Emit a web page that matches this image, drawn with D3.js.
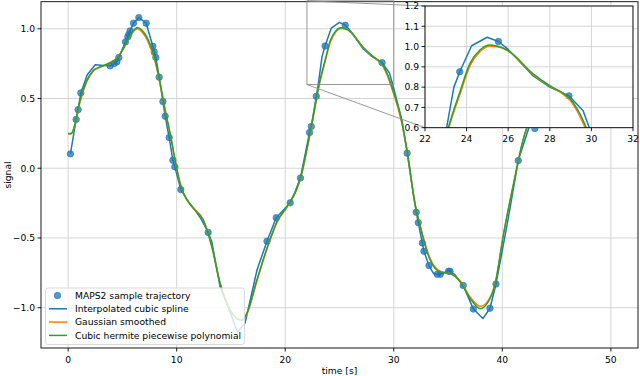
<!DOCTYPE html>
<html>
<head>
<meta charset="utf-8">
<script src="https://cdn.jsdelivr.net/npm/d3@7"></script>
<style>
  body { margin: 0; background: #fff; }
  text { font-family: "DejaVu Sans", sans-serif; font-size: 9.2px; fill: #000; }
</style>
</head>
<body>
<svg id="chart"></svg>
<script>
// MAPS2 sample points
const sampleTime = [0.21, 0.74, 0.92, 1.17, 3.87, 4.24, 4.49, 4.67, 5.28, 5.5, 5.59, 5.71, 6.02, 6.51, 7.19,
  7.8, 7.93, 8.08, 8.39, 8.73, 8.94, 9.31, 9.65, 9.83, 10.38, 12.9, 18.32, 19.17, 20.46, 21.4, 22.24, 22.4,
  22.86, 23.67, 25.53, 28.92, 31.23, 32.07, 32.26, 32.63, 32.78, 33.24, 34.01, 34.29, 35.05, 35.18, 36.4,
  37.33, 38.86, 39.42, 41.47, 43.0];
const sampleSignal = [0.103, 0.35, 0.42, 0.54, 0.734, 0.75, 0.763, 0.794, 0.906, 0.942, 0.96, 0.985, 1.04, 1.08, 1.04,
  0.875, 0.834, 0.794, 0.653, 0.478, 0.373, 0.22, 0.057, 0.01, -0.153, -0.46, -0.523, -0.355, -0.248, -0.07, 0.256, 0.30,
  0.516, 0.876, 1.025, 0.757, 0.108, -0.316, -0.39, -0.536, -0.595, -0.698, -0.76, -0.76, -0.739, -0.739, -0.84,
  -1.01, -1.004, -0.83, 0.055, 0.285];

// interpolated cubic spline (as drawn)
const splineTime = [0.21, 0.74, 0.92, 1.17, 1.76, 2.5, 3.3, 3.87, 4.24, 4.49, 4.67, 5.28, 5.5, 5.59, 5.71, 6.02, 6.51,
  7.19, 7.8, 7.93, 8.08, 8.39, 8.73, 8.94, 9.31, 9.65, 9.83, 10.38, 11.09, 11.7, 12.3, 12.9, 13.24, 14.0, 15.09, 15.6,
  16.3, 17.4, 18.32, 19.17, 20.46, 20.9, 21.4, 22.24, 22.4, 22.86, 23.04, 23.39, 23.67, 24.24, 24.99, 25.53, 26.0,
  27.2, 28.0, 28.92, 29.6, 29.9, 30.75, 31.23, 32.07, 32.26, 32.63, 32.78, 33.24, 33.67, 34.01, 34.29, 35.05, 35.18,
  35.67, 36.4, 37.33, 38.21, 38.86, 39.42, 40.5, 41.47, 42.4, 43.3];
const splineSignal = [0.103, 0.35, 0.42, 0.54, 0.67, 0.742, 0.737, 0.734, 0.75, 0.763, 0.794, 0.906, 0.942, 0.96, 0.985, 1.04, 1.08,
  1.04, 0.875, 0.834, 0.794, 0.653, 0.478, 0.373, 0.22, 0.057, 0.01, -0.153, -0.242, -0.30, -0.37, -0.46, -0.529, -0.85, -1.067, -1.175,
  -1.11, -0.73, -0.523, -0.355, -0.248, -0.17, -0.07, 0.256, 0.30, 0.516, 0.6, 0.8, 0.876, 1.004, 1.046, 1.025, 0.986,
  0.855, 0.80, 0.757, 0.684, 0.6, 0.344, 0.108, -0.316, -0.39, -0.536, -0.595, -0.698, -0.755, -0.76, -0.76, -0.739, -0.739,
  -0.767, -0.84, -1.01, -1.078, -1.004, -0.83, -0.38, 0.055, 0.28, 0.42];

// gaussian smoothed and cubic hermite curves share one time grid
const smoothTime = [0.0, 0.28, 0.64, 1.1, 1.72, 2.33, 2.95, 3.87, 4.49, 5.1, 5.71, 6.39, 6.79, 7.4, 8.02, 8.48, 8.94,
  9.4, 9.86, 10.32, 10.63, 11.55, 12.47, 13.24, 14.0, 14.77, 15.55, 16.0, 16.47, 17.39, 18.31, 19.23, 20.3, 21.0,
  21.5, 22.0, 22.5, 23.12, 23.68, 24.16, 24.64, 25.12, 25.6, 26.0, 27.2, 28.0, 28.64, 28.95, 29.35, 29.76, 30.75,
  31.37, 31.83, 32.6, 33.36, 34.29, 35.2, 36.13, 37.05, 37.97, 38.59, 39.35, 40.12, 41.04, 41.9, 42.8, 43.4];
const gaussianSignal = [0.245, 0.245, 0.31, 0.475, 0.62, 0.697, 0.724, 0.758, 0.79, 0.86, 0.95, 1.0, 0.978, 0.9, 0.762, 0.6, 0.41,
  0.245, 0.055, -0.11, -0.18, -0.285, -0.375, -0.56, -0.82, -0.99, -1.075, -1.09, -1.045, -0.81, -0.58, -0.39, -0.262, -0.165,
  -0.05, 0.13, 0.33, 0.59, 0.765, 0.905, 0.975, 1.002, 0.997, 0.978, 0.862, 0.805, 0.765, 0.738, 0.675, 0.585, 0.32,
  0.05, -0.2, -0.46, -0.65, -0.74, -0.755, -0.81, -0.925, -0.99, -0.96, -0.82, -0.47, -0.11, 0.2, 0.4, 0.5];
const hermiteSignal = [0.249, 0.249, 0.32, 0.488, 0.63, 0.703, 0.727, 0.756, 0.787, 0.859, 0.954, 1.009, 0.99, 0.918, 0.775, 0.608, 0.416,
  0.249, 0.057, -0.11, -0.18, -0.29, -0.373, -0.565, -0.827, -0.995, -1.078, -1.09, -1.04, -0.80, -0.576, -0.385, -0.26, -0.16,
  -0.04, 0.14, 0.34, 0.6, 0.777, 0.917, 0.983, 1.008, 0.999, 0.98, 0.865, 0.807, 0.77, 0.745, 0.687, 0.6, 0.33,
  0.057, -0.2, -0.469, -0.66, -0.744, -0.756, -0.816, -0.935, -1.007, -0.971, -0.827, -0.469, -0.11, 0.2, 0.4, 0.5];

const mainXTicks = [0, 10, 20, 30, 40, 50];
const mainYTicks = [-1.0, -0.5, 0.0, 0.5, 1.0];
const insetXTicks = [22, 24, 26, 28, 30, 32];
const insetYTicks = [0.6, 0.7, 0.8, 0.9, 1.0, 1.1, 1.2];
const legendNames = ['MAPS2 sample trajectory', 'Interpolated cubic spline', 'Gaussian smoothed', 'Cubic hermite piecewise polynomial'];

const blue = '#1f77b4', orange = '#ff7f0e', green = '#2ca02c';

const width = 640, height = 376;
const svg = d3.select('#chart').attr('width', width).attr('height', height);

const samples = sampleTime.map((t, i) => ({ t, v: sampleSignal[i] }));
const spline = splineTime.map((t, i) => ({ t, v: splineSignal[i] }));
const gauss = smoothTime.map((t, i) => ({ t, v: gaussianSignal[i] }));
const hermite = smoothTime.map((t, i) => ({ t, v: hermiteSignal[i] }));

function drawPanel(g, x, y, xTicks, yTicks, clipId, fmtX, fmtY, filled) {
    const [x0, x1] = x.range();
    const [y0, y1] = y.range(); // bottom, top

    if (filled) {
        g.append('rect').attr('x', x0).attr('y', y1)
            .attr('width', x1 - x0).attr('height', y0 - y1).attr('fill', '#fff');
    }

    // grid
    g.selectAll('.gx').data(xTicks).enter().append('line')
        .attr('x1', d => x(d)).attr('x2', d => x(d)).attr('y1', y0).attr('y2', y1)
        .attr('stroke', '#d0d0d0').attr('stroke-width', 0.9);
    g.selectAll('.gy').data(yTicks).enter().append('line')
        .attr('x1', x0).attr('x2', x1).attr('y1', d => y(d)).attr('y2', d => y(d))
        .attr('stroke', '#d0d0d0').attr('stroke-width', 0.9);

    g.append('clipPath').attr('id', clipId).append('rect')
        .attr('x', x0).attr('y', y1).attr('width', x1 - x0).attr('height', y0 - y1);
    const plot = g.append('g').attr('clip-path', `url(#${clipId})`);

    plot.selectAll('circle').data(samples).enter().append('circle')
        .attr('cx', d => x(d.t)).attr('cy', d => y(d.v)).attr('r', 3.2)
        .attr('fill', blue).attr('fill-opacity', 0.75)
        .attr('stroke', blue).attr('stroke-width', 0.7);

    const line = d3.line().x(d => x(d.t)).y(d => y(d.v));
    const smooth = d3.line().x(d => x(d.t)).y(d => y(d.v)).curve(d3.curveMonotoneX);

    plot.append('path').datum(spline).attr('d', line)
        .attr('fill', 'none').attr('stroke', blue).attr('stroke-width', 1.5).attr('stroke-linejoin', 'round');
    plot.append('path').datum(gauss).attr('d', smooth)
        .attr('fill', 'none').attr('stroke', orange).attr('stroke-width', 1.5);
    plot.append('path').datum(hermite).attr('d', smooth)
        .attr('fill', 'none').attr('stroke', green).attr('stroke-width', 1.5);

    // frame
    g.append('rect').attr('x', x0).attr('y', y1).attr('width', x1 - x0).attr('height', y0 - y1)
        .attr('fill', 'none').attr('stroke', '#000').attr('stroke-width', 0.9);

    // ticks and labels
    g.selectAll('.tx').data(xTicks).enter().append('line')
        .attr('x1', d => x(d)).attr('x2', d => x(d)).attr('y1', y0).attr('y2', y0 + 3.5)
        .attr('stroke', '#000').attr('stroke-width', 0.9);
    g.selectAll('.lx').data(xTicks).enter().append('text')
        .attr('x', d => x(d)).attr('y', y0 + 14.5).attr('text-anchor', 'middle')
        .text(fmtX);
    g.selectAll('.ty').data(yTicks).enter().append('line')
        .attr('x1', x0 - 3.5).attr('x2', x0).attr('y1', d => y(d)).attr('y2', d => y(d))
        .attr('stroke', '#000').attr('stroke-width', 0.9);
    g.selectAll('.ly').data(yTicks).enter().append('text')
        .attr('x', x0 - 6).attr('y', d => y(d) + 3.3).attr('text-anchor', 'end')
        .text(fmtY);
}

// main axes
const x = d3.scaleLinear().domain([-2.5, 52.5]).range([41, 638]);
const y = d3.scaleLinear().domain([-1.289, 1.194]).range([348, 1.7]);
const mainG = svg.append('g');
drawPanel(mainG, x, y, mainXTicks, mainYTicks, 'clipMain', d3.format('d'), d3.format('.1f'), false);

mainG.append('text').attr('x', (41 + 638) / 2).attr('y', 374).attr('text-anchor', 'middle').text('time [s]');
mainG.append('text').attr('transform', `translate(11,175) rotate(-90)`).attr('text-anchor', 'middle').text('signal');

// legend
const legend = svg.append('g');
legend.append('rect').attr('x', 45.5).attr('y', 288).attr('width', 199).attr('height', 56.5)
    .attr('rx', 2.5).attr('fill', '#fff').attr('fill-opacity', 0.8)
    .attr('stroke', '#d6d6d6').attr('stroke-width', 0.9);
const legendItems = legend.selectAll('.item').data(legendNames).enter().append('g')
    .attr('transform', (d, i) => `translate(0,${295.5 + i * 13.3})`);
legendItems.each(function(d, i) {
    const item = d3.select(this);
    if (i === 0) {
        item.append('circle').attr('cx', 57.5).attr('cy', 0).attr('r', 3.2)
            .attr('fill', blue).attr('fill-opacity', 0.75).attr('stroke', blue).attr('stroke-width', 0.7);
    } else {
        item.append('line').attr('x1', 49).attr('x2', 67).attr('y1', 0).attr('y2', 0)
            .attr('stroke', [blue, blue, orange, green][i]).attr('stroke-width', 1.5);
    }
    item.append('text').attr('x', 75).attr('y', 3.3).text(d);
});

// zoom indicator
const insetX = d3.scaleLinear().domain([22, 32]).range([425, 633]);
const insetY = d3.scaleLinear().domain([0.6, 1.2]).range([127.7, 6]);
const markColor = '#8c8c8c';
svg.append('rect').attr('x', x(22)).attr('y', y(1.2)).attr('width', x(30) - x(22)).attr('height', y(0.6) - y(1.2))
    .attr('fill', 'none').attr('stroke', markColor).attr('stroke-width', 0.9);
svg.append('line').attr('x1', x(22)).attr('y1', y(1.2)).attr('x2', 425).attr('y2', 6)
    .attr('stroke', markColor).attr('stroke-width', 0.9);
svg.append('line').attr('x1', x(22)).attr('y1', y(0.6)).attr('x2', 425).attr('y2', 127.7)
    .attr('stroke', markColor).attr('stroke-width', 0.9);

// inset axes
const insetG = svg.append('g');
drawPanel(insetG, insetX, insetY, insetXTicks, insetYTicks, 'clipInset', d3.format('d'), d3.format('.1f'), true);
</script>
</body>
</html>
